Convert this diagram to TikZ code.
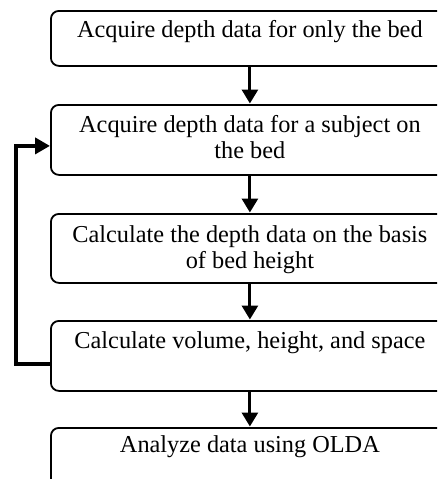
\documentclass[tikz,border=0pt]{standalone}
\usepackage{fontspec}
\setmainfont{Liberation Serif}
\usetikzlibrary{arrows.meta}
\tikzset{
  stepbox/.style={draw, line width=1.8pt, rounded corners=8pt, inner sep=0pt,
    anchor=north west, font=\fontsize{24.3}{26}\selectfont},
  flow/.style={line width=3pt, -{Triangle[width=16pt,length=14pt]}, shorten >=0.5pt},
  loopback/.style={line width=4pt, -{Triangle[width=16pt,length=15pt]}}
}
\newcommand{\boxcontent}[3]{\parbox[c][#1][t]{398pt}{\centering\vspace*{#2}\strut #3\par}}
\begin{document}
\begin{tikzpicture}[x=1pt,y=-1pt]
\useasboundingbox (0,0) rectangle (437,479);
\clip (0,0) rectangle (437,479);
\node[stepbox] (b1) at (50,10)  {\boxcontent{55pt}{8.8pt}{Acquire depth data for only the bed}};
\node[stepbox] (b2) at (50,104) {\boxcontent{70pt}{9.8pt}{Acquire depth data for a subject on\\the bed}};
\node[stepbox] (b3) at (50,213) {\boxcontent{69pt}{10.8pt}{Calculate the depth data on the basis\\of bed height}};
\node[stepbox] (b4) at (50,320) {\boxcontent{70pt}{9.8pt}{Calculate volume, height, and space}};
\node[stepbox] (b5) at (50,427) {\boxcontent{70pt}{6.8pt}{Analyze data using OLDA}};
\draw[flow] (b1.south) -- (b2.north);
\draw[flow] (b2.south) -- (b3.north);
\draw[flow] (b3.south) -- (b4.north);
\draw[flow] (b4.south) -- (b5.north);
\draw[loopback] ([yshift=-8pt]b4.west) -- ++(-34,0) |- ([yshift=-6pt]b2.west);
\end{tikzpicture}
\end{document}
